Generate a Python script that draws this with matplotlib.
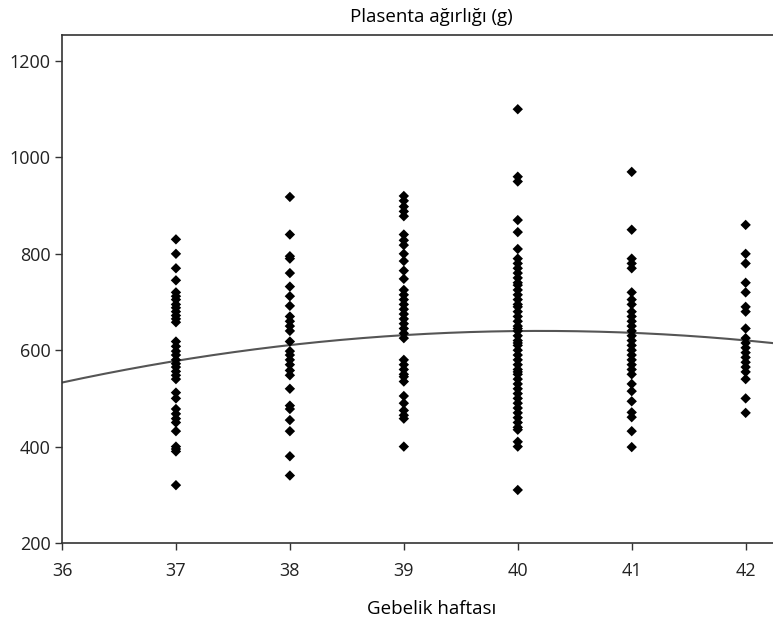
import numpy as np
import matplotlib.pyplot as plt

plt.rcParams['font.family'] = ['Open Sans', 'DejaVu Sans']

weeks = [37, 38, 39, 40, 41, 42]

w37 = [830, 800, 770, 745, 720, 712, 705, 695, 688, 680, 672, 665, 658, 618, 608,
       598, 590, 580, 572, 565, 556, 548, 540, 512, 500, 478, 468, 458, 450, 432,
       400, 395, 390, 320]
w38 = [918, 840, 795, 790, 760, 732, 712, 692, 670, 660, 650, 640, 618, 598, 590,
       580, 570, 558, 548, 520, 485, 478, 455, 432, 380, 340]
w39 = [920, 910, 898, 888, 878, 840, 828, 818, 800, 785, 765, 748, 725, 715, 705,
       695, 685, 675, 665, 655, 645, 635, 625, 580, 570, 560, 550, 545, 535, 505,
       490, 475, 465, 458, 400]
w40 = [1100, 960, 950, 870, 845, 810, 790, 780, 770, 760, 750, 740, 735, 725, 715,
       705, 695, 690, 680, 670, 660, 650, 645, 640, 630, 620, 615, 610, 600, 590,
       580, 570, 560, 555, 550, 540, 530, 520, 510, 500, 490, 480, 470, 460, 450,
       440, 435, 410, 400, 310]
w41 = [970, 850, 790, 780, 770, 720, 705, 695, 680, 670, 660, 650, 640, 630, 620,
       610, 600, 590, 580, 570, 560, 550, 530, 515, 494, 471, 461, 432, 399]
w42 = [860, 800, 780, 740, 720, 690, 680, 645, 625, 615, 605, 595, 585, 575, 565,
       555, 540, 500, 470]
weights = [w37, w38, w39, w40, w41, w42]

# quadratic trend (vertex form)
peak_week = 40.2
peak_weight = 640
curvature = -6.07

fig = plt.figure(figsize=(7.73, 6.2), dpi=100)
ax = fig.add_axes([62 / 773, 1 - 543 / 620, 1 - 62 / 773, (543 - 35) / 620])

for wk, vals in zip(weeks, weights):
    ax.scatter([wk] * len(vals), vals, marker='D', s=28, c='black',
               edgecolors='none', zorder=3)

xs = np.linspace(36, 42.25, 200)
ax.plot(xs, curvature * (xs - peak_week) ** 2 + peak_weight, c='#555555',
        lw=1.5, zorder=2)

ax.set_xlim(36, 42.24)
ax.set_ylim(200, 1254)
ax.set_xticks([36, 37, 38, 39, 40, 41, 42])
ax.set_yticks([200, 400, 600, 800, 1000, 1200])
ax.spines['right'].set_visible(False)
for s in ['left', 'bottom', 'top']:
    ax.spines[s].set_color('#333333')
    ax.spines[s].set_linewidth(1.2)
ax.tick_params(direction='out', length=5, width=1, labelsize=13, colors='#333333')
ax.tick_params(labelcolor='#222222')
ax.tick_params(axis='x', pad=9)
ax.tick_params(axis='y', pad=3)

ax.set_title('Plasenta ağırlığı (g)', fontsize=13.5, pad=9, x=0.52)
ax.set_xlabel('Gebelik haftası', fontsize=13.5)
ax.xaxis.set_label_coords(0.52, -0.112)

fig.savefig('out.png', dpi=100)
